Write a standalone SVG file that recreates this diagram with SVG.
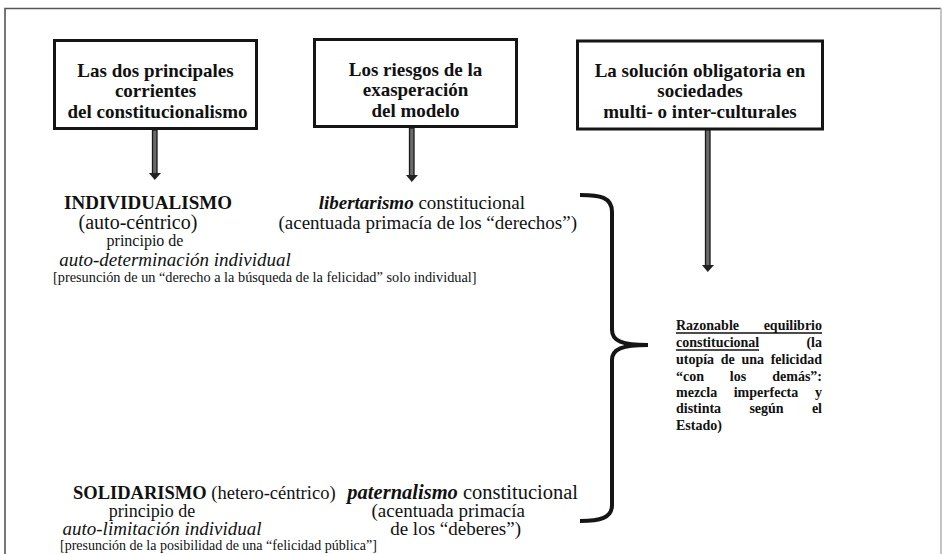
<svg xmlns="http://www.w3.org/2000/svg" width="942" height="554" viewBox="0 0 942 554">
<defs>
<style>
text{font-family:"Liberation Serif","Times New Roman",serif;fill:#111}
.t{font-weight:bold;font-size:19px;text-anchor:middle}
.box{fill:#fff;stroke:#151515;stroke-width:3}
.shaft{fill:#6a6a6a;stroke:#1a1a1a;stroke-width:1.3}
.head{fill:#222}
.b{font-weight:bold}
.i{font-style:italic}
.r{font-weight:bold;font-size:14px}
</style>
</defs>
<rect width="942" height="554" fill="#fff"/>
<path d="M5,560 V8.5 H941" fill="none" stroke="#555" stroke-width="1.6"/>
<path d="M941,8.5 V560" fill="none" stroke="#c4c4c4" stroke-width="2"/>

<g id="box1">
<rect class="box" x="54.5" y="40.5" width="202" height="88"/>
<text class="t" x="155.5" y="77">Las dos principales</text>
<text class="t" x="155.5" y="97">corrientes</text>
<text class="t" x="157.5" y="118">del constitucionalismo</text>
</g>
<g id="box2">
<rect class="box" x="314.5" y="39.5" width="202" height="87"/>
<text class="t" x="415.5" y="76">Los riesgos de la</text>
<text class="t" x="415.5" y="96">exasperación</text>
<text class="t" x="415.5" y="117">del modelo</text>
</g>
<g id="box3">
<rect class="box" x="577.5" y="41" width="245" height="88"/>
<text class="t" x="700" y="77">La solución obligatoria en</text>
<text class="t" x="700" y="97">sociedades</text>
<text class="t" x="700" y="118">multi- o inter-culturales</text>
</g>

<g id="connectors">
<rect class="shaft" x="152.5" y="130" width="4.5" height="44"/>
<polygon class="head" points="149,173 161,173 154.75,180"/>
<rect class="shaft" x="409.5" y="128" width="4.5" height="48"/>
<polygon class="head" points="406,175 418,175 411.75,182"/>
<rect class="shaft" x="705.5" y="130" width="4.5" height="136"/>
<polygon class="head" points="702,265 714,265 707.75,272"/>
<path d="M580,195 C600,195 612,197 612,212 L612,330 C612,341 622,345 648,345 C622,345 612,349 612,360 L612,505 C612,518 600,521 580,521" fill="none" stroke="#151515" stroke-width="4"/>
</g>

<g id="individualismo">
<text class="b" x="148" y="209" font-size="19" text-anchor="middle">INDIVIDUALISMO</text>
<text x="138" y="229" font-size="20" text-anchor="middle">(auto-céntrico)</text>
<text x="145" y="246" font-size="16" text-anchor="middle">principio de</text>
<text class="i" x="175" y="266" font-size="19" text-anchor="middle">auto-determinación individual</text>
<text x="53" y="282" font-size="14.3">[presunción de un “derecho a la búsqueda de la felicidad” solo individual]</text>
</g>

<g id="libertarismo">
<text x="525" y="209" font-size="19" text-anchor="end"><tspan class="b i">libertarismo</tspan> constitucional</text>
<text x="577" y="229" font-size="19" text-anchor="end">(acentuada primacía de los “derechos”)</text>
</g>

<g id="solidarismo">
<text x="73" y="499" font-size="18.5"><tspan class="b">SOLIDARISMO</tspan> (hetero-céntrico)</text>
<text x="152" y="517" font-size="18" text-anchor="middle">principio de</text>
<text class="i" x="162" y="535" font-size="19" text-anchor="middle">auto-limitación individual</text>
<text x="60" y="550" font-size="14">[presunción de la posibilidad de una “felicidad pública”]</text>
</g>

<g id="paternalismo">
<text x="578" y="499" font-size="20.5" text-anchor="end"><tspan class="b i">paternalismo</tspan> constitucional</text>
<text x="525" y="517" font-size="19" text-anchor="end">(acentuada primacía</text>
<text x="521" y="535" font-size="19" text-anchor="end">de los “deberes”)</text>
</g>

<g id="equilibrio">
<text class="r" x="676" y="330">Razonable</text>
<text class="r" x="822" y="330" text-anchor="end">equilibrio</text>
<line x1="676" y1="333" x2="822" y2="333" stroke="#111" stroke-width="1.4"/>
<text class="r" x="676" y="347">constitucional</text>
<line x1="676" y1="350" x2="759" y2="350" stroke="#111" stroke-width="1.4"/>
<text class="r" x="822" y="347" text-anchor="end">(la</text>
<text class="r" x="676" y="364">utopía</text>
<text class="r" x="720.8" y="364">de</text>
<text class="r" x="741.5" y="364">una</text>
<text class="r" x="822" y="364" text-anchor="end">felicidad</text>
<text class="r" x="676" y="381">“con</text>
<text class="r" x="738" y="381" text-anchor="middle">los</text>
<text class="r" x="822" y="381" text-anchor="end">demás”:</text>
<text class="r" x="676" y="397">mezcla</text>
<text class="r" x="766" y="397" text-anchor="middle">imperfecta</text>
<text class="r" x="822" y="397" text-anchor="end">y</text>
<text class="r" x="676" y="413">distinta</text>
<text class="r" x="766.5" y="413" text-anchor="middle">según</text>
<text class="r" x="822" y="413" text-anchor="end">el</text>
<text class="r" x="676" y="430">Estado)</text>
</g>
</svg>
